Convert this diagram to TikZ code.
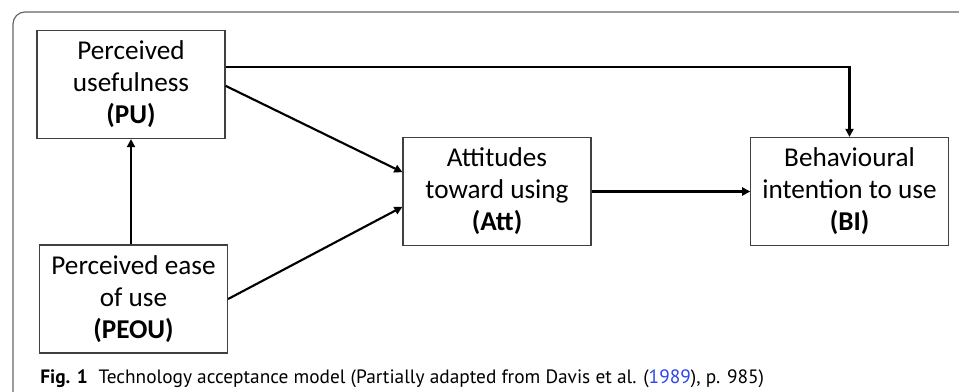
\documentclass[tikz,border=0pt]{standalone}
\usepackage{fontspec}
\setmainfont{Carlito}
\newfontfamily\capfont{PT Sans}
\usetikzlibrary{arrows.meta}
\definecolor{linkblue}{RGB}{45,70,235}

\begin{document}
\begin{tikzpicture}[x=0.75pt,y=-0.75pt,
	box/.style={rectangle, draw=black!75, line width=0.9pt, minimum width=141pt, minimum height=81pt, align=center, font=\fontsize{20.4}{24}\selectfont},
	arr/.style={line width=1.6pt, -{Triangle[length=6pt,width=6pt]}}]
\useasboundingbox (0,0) rectangle (959,392);
\draw[black!60, line width=0.9pt, rounded corners=9pt] (13,400) -- (13,12) -- (970,12);

\node (pu) at (131,84.5) [box] {Perceived\\usefulness\\\textbf{(PU)}};
\node (peou) at (133.5,299) [box] {Perceived ease\\of use\\\textbf{(PEOU)}};
	\draw[arr] (peou.north -| pu.south) -- (pu.south);

\node (att) at (497,191.5) [box] {Attitudes\\toward using\\\textbf{(Att)}};
	\draw[arr] ([yshift=-1pt]pu.east) -- ([yshift=14.5pt]att.west);
	\draw[arr] (peou.east) -- ([yshift=-11.5pt]att.west);

\node (bi) at (849.5,191.5) [box, minimum width=148pt] {Behavioural\\intention to use\\\textbf{(BI)}};
	\draw[arr] (att.east) -- (bi.west);
	\draw[arr] ([yshift=13pt]pu.east) -| (bi.north);

\node (cap) at (40,383) [anchor=base west, inner sep=0pt, font=\capfont\fontsize{14.5}{16}\selectfont]
	{\textbf{Fig. 1}\hspace{8pt}Technology acceptance model (Partially adapted from Davis et al. (\textcolor{linkblue}{1989}), p. 985)};
\end{tikzpicture}
\end{document}
